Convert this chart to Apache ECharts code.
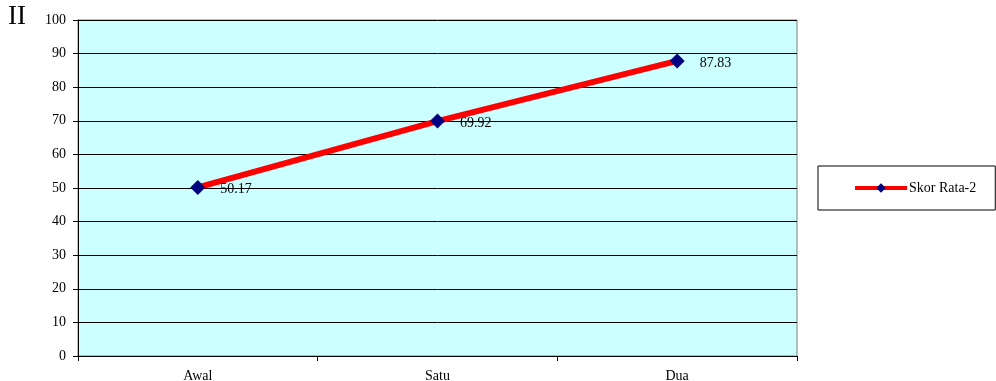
<!DOCTYPE html>
<html>
<head>
<meta charset="utf-8">
<script src="https://cdn.jsdelivr.net/npm/echarts@6/dist/echarts.min.js"></script>
<style>
  html, body { margin: 0; padding: 0; background: #fff; }
  #chart { width: 996px; height: 381px; }
</style>
</head>
<body>
<div id="chart"></div>
<script>
// Average score per stage
const categories = ['Awal', 'Satu', 'Dua'];
const scores = [50.17, 69.92, 87.83];
const seriesName = 'Skor Rata-2';
const yTicks = { min: 0, max: 100, interval: 10 };

const font = '"Liberation Serif", "Times New Roman", serif';

const chart = echarts.init(document.getElementById('chart'), null, { renderer: 'canvas' });
chart.setOption({
  animation: false,
  backgroundColor: '#ffffff',
  textStyle: { fontFamily: font },
  graphic: [{
    type: 'text', left: 8, top: 3,
    style: { text: 'II', font: '27px ' + font, fill: '#000' }
  }],
  grid: {
    left: 78, right: 199, top: 20, bottom: 25,
    outerBoundsMode: 'none',
    containLabel: false,
    show: true, backgroundColor: '#CCFFFF', borderColor: '#808080', borderWidth: 1
  },
  legend: {
    data: [seriesName],
    left: 818, top: 166,
    orient: 'vertical',
    padding: [15, 19, 15, 35],
    itemWidth: 52, itemHeight: 12, itemGap: 0,
    borderColor: '#000', borderWidth: 1,
    lineStyle: { width: 4 },
    textStyle: { fontFamily: font, fontSize: 14, color: '#000', padding: [0, 0, 0, -3] }
  },
  xAxis: {
    type: 'category',
    data: categories,
    boundaryGap: true,
    axisLine: { lineStyle: { color: '#000', width: 1 } },
    axisTick: { show: true, inside: false, length: 5, lineStyle: { color: '#000' } },
    axisLabel: { color: '#000', fontFamily: font, fontSize: 14, margin: 13 },
    splitLine: { show: false }
  },
  yAxis: {
    type: 'value',
    min: yTicks.min, max: yTicks.max, interval: yTicks.interval,
    axisLine: { show: true, lineStyle: { color: '#000', width: 1 } },
    axisTick: { show: true, inside: false, length: 5, lineStyle: { color: '#000' } },
    axisLabel: { color: '#000', fontFamily: font, fontSize: 14, margin: 12 },
    splitLine: { show: true, lineStyle: { color: '#000', width: 1 } }
  },
  series: [{
    name: seriesName,
    type: 'line',
    data: scores,
    symbol: 'diamond',
    symbolSize: 15,
    itemStyle: { color: '#000080' },
    lineStyle: { color: '#FF0000', width: 6 },
    z: 3,
    label: {
      show: true, position: 'right', distance: 15, offset: [0, 2],
      color: '#000', fontFamily: font, fontSize: 14,
      formatter: (p) => p.value.toFixed(2)
    }
  }]
});
</script>
</body>
</html>
